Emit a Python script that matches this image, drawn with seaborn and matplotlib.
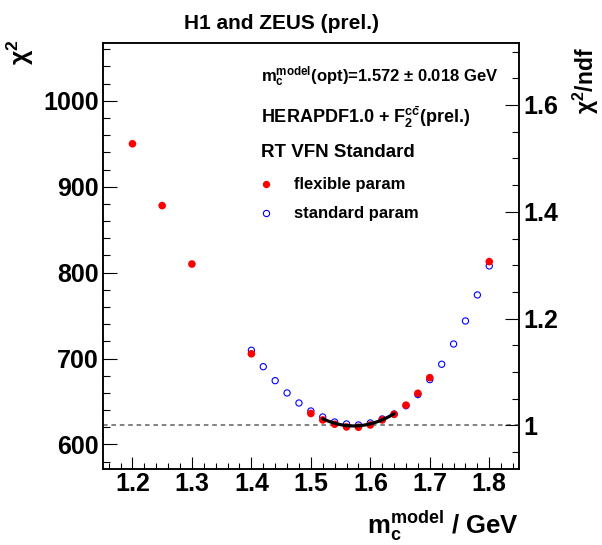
import numpy as np
import pandas as pd
import matplotlib
matplotlib.use("Agg")
import matplotlib.pyplot as plt
import seaborn as sns
from matplotlib.lines import Line2D
from matplotlib.ticker import FixedLocator, MultipleLocator, FuncFormatter

# chi2 scan versus charm mass, flexible parametrisation
mass_flexible = [1.20, 1.25, 1.30, 1.40, 1.50, 1.52, 1.54, 1.56, 1.58, 1.60,
                 1.62, 1.64, 1.66, 1.68, 1.70, 1.80]
chi2_flexible = [950.0, 878.0, 810.0, 705.5, 636.0, 628.5, 623.5, 620.3, 620.0,
                 622.6, 628.5, 635.0, 645.7, 659.5, 677.7, 812.8]

# chi2 scan versus charm mass, standard parametrisation
mass_standard = [1.40, 1.42, 1.44, 1.46, 1.48, 1.50, 1.52, 1.54, 1.56, 1.58,
                 1.60, 1.62, 1.64, 1.66, 1.68, 1.70, 1.72, 1.74, 1.76, 1.78, 1.80]
chi2_standard = [709.6, 690.5, 674.2, 659.9, 648.2, 638.9, 631.9, 626.1, 623.8,
                 622.6, 624.9, 629.6, 635.4, 645.0, 658.0, 675.4, 693.3, 716.9,
                 743.7, 774.0, 807.8]

# parabola fit around the minimum
m_opt = 1.572
m_err = 0.018
chi2_min = 621.5
fit_lo, fit_hi = 1.52, 1.64

ndf = 622
x_ticks = [1.2, 1.3, 1.4, 1.5, 1.6, 1.7, 1.8]
y_ticks = [600, 700, 800, 900, 1000]
ndf_ticks = [1.0, 1.2, 1.4, 1.6]
x_range = (1.15, 1.85)
y_range = (571, 1067)

sns.set_theme(style="ticks")
plt.rcParams.update({
    "font.family": ["Liberation Sans", "DejaVu Sans"],
    "font.weight": "bold",
    "mathtext.fontset": "custom",
    "mathtext.rm": "Liberation Sans:bold",
    "mathtext.it": "Liberation Sans:bold",
    "mathtext.bf": "Liberation Sans:bold",
    "mathtext.default": "rm",
    "axes.linewidth": 1.1,
    "text.color": "black",
    "axes.labelcolor": "black",
    "axes.edgecolor": "black",
    "xtick.color": "black",
    "ytick.color": "black",
    "xtick.labelcolor": "black",
    "ytick.labelcolor": "black",
})

W, H = 602, 545
fig = plt.figure(figsize=(W / 100, H / 100), dpi=100)
fig.patch.set_facecolor("white")


def fx(px):
    return px / W


def fy(py):
    return 1 - py / H


ax = fig.add_axes([fx(102.7), fy(469.3), fx(519) - fx(102.7), fy(43.3) - fy(469.3)])
ax.set_facecolor("white")

# reference line at chi2/ndf = 1
ax.axhline(ndf, color="#606060", lw=1.1, ls=(0, (3, 2.5)), zorder=1)

df_std = pd.DataFrame({"mass": mass_standard, "chi2": chi2_standard})
df_flex = pd.DataFrame({"mass": mass_flexible, "chi2": chi2_flexible})

sns.scatterplot(data=df_std, x="mass", y="chi2", ax=ax, marker="o", s=20,
                facecolors="none", edgecolor="#0000ff", linewidth=0.8, zorder=3)
sns.scatterplot(data=df_flex, x="mass", y="chi2", ax=ax, marker="o", s=30,
                color="#ff0000", edgecolor="none", linewidth=0, zorder=4)

m_fit = np.linspace(fit_lo, fit_hi, 60)
df_fit = pd.DataFrame({"mass": m_fit, "chi2": chi2_min + ((m_fit - m_opt) / m_err) ** 2})
sns.lineplot(data=df_fit, x="mass", y="chi2", ax=ax, color="black", lw=2.3, zorder=5)

ax.set_xlim(*x_range)
ax.set_ylim(*y_range)
ax.set_xlabel("")
ax.set_ylabel("")

ax.xaxis.set_major_locator(FixedLocator(x_ticks))
ax.xaxis.set_minor_locator(MultipleLocator(0.02))
ax.yaxis.set_major_locator(FixedLocator(y_ticks))
ax.yaxis.set_minor_locator(MultipleLocator(20))
ax.xaxis.set_major_formatter(FuncFormatter(lambda v, p: f"{v:g}"))
ax.yaxis.set_major_formatter(FuncFormatter(lambda v, p: f"{v:g}"))

ax.tick_params(axis="x", which="major", direction="in", length=8.6, width=0.8,
               pad=2, labelsize=18, top=False)
ax.tick_params(axis="x", which="minor", direction="in", length=4.3, width=0.8, top=False)
ax.tick_params(axis="y", which="major", direction="in", length=10, width=0.8,
               pad=3, labelsize=18, right=False)
ax.tick_params(axis="y", which="minor", direction="in", length=5, width=0.8, right=False)

# right axis: chi2 per degree of freedom
ax2 = ax.twinx()
ax2.set_ylim(y_range[0] / ndf, y_range[1] / ndf)
ax2.yaxis.set_major_locator(FixedLocator(ndf_ticks))
ax2.yaxis.set_minor_locator(MultipleLocator(0.05))
ax2.yaxis.set_major_formatter(FuncFormatter(lambda v, p: f"{v:g}"))
ax2.tick_params(axis="y", which="major", direction="in", length=10, width=0.8,
                pad=3, labelsize=18, left=False)
ax2.tick_params(axis="y", which="minor", direction="in", length=5, width=0.8, left=False)
for a in (ax, ax2):
    for s in a.spines.values():
        s.set_color("black")
        s.set_linewidth(1.1)

# titles and axis labels
fig.text(fx(281), fy(29), "H1 and ZEUS (prel.)", ha="center", va="baseline",
         fontsize=15, fontweight="bold")
fig.text(fx(20), fy(39), r"$\chi^2$", rotation=90, ha="center", va="top", fontsize=18)
fig.text(fx(601), fy(47), r"$\chi^2$/ndf", rotation=90, ha="right", va="top",
         fontsize=16.5, fontweight="bold")
fig.text(fx(519), fy(534), r"$m_c^{model}$ / GeV", ha="right", va="baseline",
         fontsize=18.5, fontweight="bold")

# annotations
fig.text(fx(260.7), fy(82.3), rf"$m_c^{{model}}$(opt)={m_opt:.3f} ± {m_err:.3f} GeV",
         ha="left", va="baseline", fontsize=12, fontweight="bold")
fig.text(fx(260.7), fy(123.3), r"HERAPDF1.0 + $F_2^{c\bar{c}}$(prel.)",
         ha="left", va="baseline", fontsize=13, fontweight="bold")
fig.text(fx(260.7), fy(156.7), "RT VFN Standard",
         ha="left", va="baseline", fontsize=13.5, fontweight="bold")

# legend
fig.add_artist(Line2D([fx(266)], [fy(184.3)], marker="o", ms=5.3, color="#ff0000",
                      mec="none", ls="none", transform=fig.transFigure))
fig.add_artist(Line2D([fx(266)], [fy(212.7)], marker="o", ms=4.5, mfc="none",
                      mec="#0000ff", mew=0.8, ls="none", transform=fig.transFigure))
fig.text(fx(294.3), fy(189.3), "flexible param", ha="left", va="baseline",
         fontsize=12, fontweight="bold")
fig.text(fx(294.3), fy(217.7), "standard param", ha="left", va="baseline",
         fontsize=12, fontweight="bold")

fig.savefig("out.png", dpi=100)
